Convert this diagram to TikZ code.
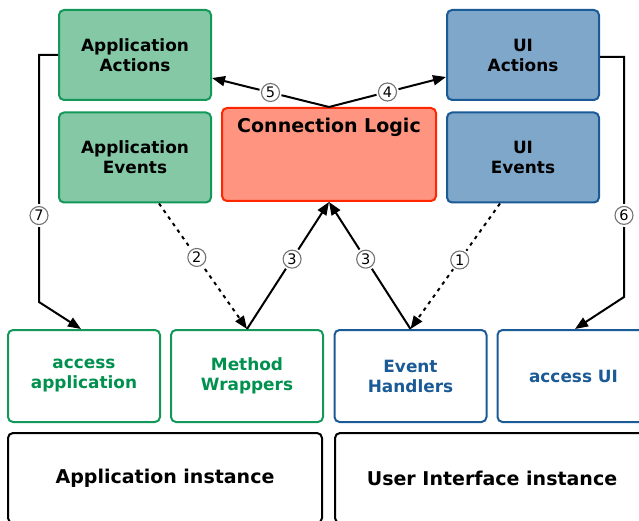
\documentclass[tikz,border=0pt]{standalone}
\usepackage{fontspec}
\setmainfont{DejaVu Sans}
\usetikzlibrary{arrows.meta,calc}
\definecolor{appfill}{HTML}{84C8A5}
\definecolor{appline}{HTML}{13985A}
\definecolor{apptext}{HTML}{00914F}
\definecolor{uifill}{HTML}{7FA7C9}
\definecolor{uiline}{HTML}{1A5A96}
\definecolor{uitext}{HTML}{1A5A96}
\definecolor{logicfill}{HTML}{FF9580}
\definecolor{logicline}{HTML}{FF2600}
\begin{document}
\begin{tikzpicture}[x=1pt,y=-1pt,
  box/.style={rectangle, rounded corners=5pt, line width=2pt, align=center,
    inner sep=0pt, font=\bfseries\fontsize{16.9}{20}\selectfont},
  appbox/.style={box, draw=appline, fill=appfill, minimum width=152pt, minimum height=90pt},
  uibox/.style={box, draw=uiline, fill=uifill, minimum width=152pt, minimum height=90pt},
  appport/.style={box, draw=appline, fill=white, text=apptext, minimum width=152pt, minimum height=92pt},
  uiport/.style={box, draw=uiline, fill=white, text=uitext, minimum width=152pt, minimum height=92pt},
  instbox/.style={box, draw=black, fill=white, minimum width=314pt, minimum height=90pt,
    font=\bfseries\fontsize{19}{22}\selectfont},
  conn/.style={line width=2pt, -{Triangle[length=13pt,width=10pt]}},
  dotconn/.style={conn, dash pattern=on 3.5pt off 4.5pt},
  num/.style={circle, fill=white, inner sep=0pt, minimum size=23pt,
    font=\fontsize{14.5}{14.5}\selectfont, solid,
    path picture={\draw[black!55, line width=1.1pt, solid]
      (path picture bounding box.center) circle (9pt);}}
]
\clip (0,0) rectangle (639,521);

% upper row: action/event blocks and the connection logic
\node[appbox] (aa) at (135,55)    {Application\\Actions};
\node[appbox] (ae) at (135,157.5) {Application\\Events};
\node[uibox]  (ua) at (523,55)    {UI\\Actions};
\node[uibox]  (ue) at (523,157.5) {UI\\Events};
\node[box, draw=logicline, fill=logicfill, minimum width=214pt,
      text height=25pt, text depth=68pt,
      font=\bfseries\fontsize{19}{22}\selectfont] (cl) at (329,154.5) {Connection Logic};

% lower row: access points and wrappers
\node[appport] (acc) at (84,376)    {access\\application};
\node[appport] (mw)  at (247,376)   {Method\\Wrappers};
\node[uiport]  (eh)  at (410.5,376) {Event\\Handlers};
\node[uiport]  (au)  at (573.5,376) {access UI};

% instances
\node[instbox] (ai) at (165,478) {Application instance};
\node[instbox] (ui) at (492,478) {User Interface instance};

% connectors
\draw[dotconn] ($(ue.south)+(-23,0)$) -- node[num, pos=0.45] (n1) {1} (eh.north);
\draw[dotconn] ($(ae.south)+(24,0)$) -- node[num, pos=0.43] (n2) {2} (mw.north);
\draw[conn] (mw.north) -- node[num, pos=0.55] (n3a) {3} (cl.south);
\draw[conn] (eh.north) -- node[num, pos=0.55] (n3b) {3} (cl.south);
\draw[conn] (cl.north) -- node[num, pos=0.5] (n4) {4} ($(ua.west)+(0,22)$);
\draw[conn] (cl.north) -- node[num, pos=0.5] (n5) {5} ($(aa.east)+(0,23)$);
\draw[conn] (aa.west) -- ++(-19,0) -- node[num, pos=0.65] (n7) {7} ++(0,247)
  -- ($(acc.north)+(-3,0)$);
\draw[conn] ($(ua.east)+(0,2)$) -- ++(24,0) -- node[num, pos=0.66] (n6) {6} ++(0,240)
  -- ($(au.north)+(1.5,0)$);
\end{tikzpicture}
\end{document}
